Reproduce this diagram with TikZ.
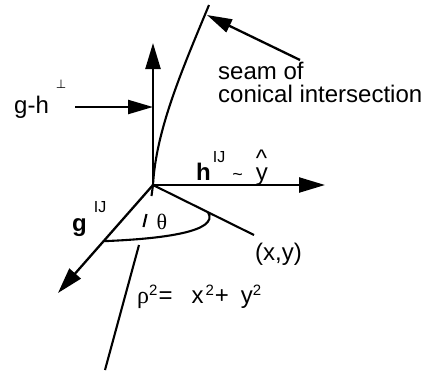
\documentclass[tikz,border=0pt]{standalone}
\usepackage{fontspec}
\setmainfont{Liberation Sans}
\newfontfamily\grk{Liberation Serif}
\newfontfamily\djv{DejaVu Sans}
\usetikzlibrary{arrows.meta,calc}
\newcommand{\sqr}{\raisebox{8pt}{\fontsize{15}{15}\selectfont 2}}
\newcommand{\supIJ}[1]{\raisebox{#1}{\fontsize{16}{16}\selectfont IJ}}
\begin{document}
\begin{tikzpicture}[x=1pt,y=-1pt,
  axis/.style={line width=2.3pt,-{Triangle[length=26pt,width=15pt]}},
  pointer/.style={line width=2.3pt,-{Triangle[length=25pt,width=14pt]}},
  curve/.style={line width=2.1pt},
  lbl/.style={inner sep=0pt,font=\fontsize{24}{24}\selectfont},
]
\useasboundingbox (0,0) rectangle (429,375);
% key points
\coordinate (O) at (153,185);
\coordinate (up) at (153,43);
\coordinate (hx) at (325,185);
\coordinate (gx) at (58,293);
\coordinate (xy) at (254,235);
\coordinate (seamtop) at (209,5);
\coordinate (seambot) at (105,370);
\coordinate (ghtail) at (75,107);
\coordinate (ghtip) at (153,107);
\coordinate (seamtail) at (300,60);
\coordinate (seamtip) at (207,15);
\coordinate (arcL) at ($(O)!0.52!(gx)$);
\coordinate (arcR) at ($(O)!0.545!(xy)$);
\coordinate (d1) at (151.5,196);
\coordinate (d2a) at (146.5,214);
\coordinate (d2b) at (143.5,227);
\coordinate (d3) at (139,245);
% axes
\draw[axis] (O) -- (up);
\draw[axis] (O) -- (hx);
\draw[axis] (O) -- (gx);
\draw[curve] (O) -- (xy);
% cone arc
\draw[curve] (arcL) .. controls (160,239) and (220,232) .. (arcR);
% seam
\draw[curve] (O) .. controls (156,130) and (182,70) .. (seamtop);
\draw[curve] (O) -- (d1);
\draw[curve] (d2a) -- (d2b);
\draw[curve] (d3) -- (seambot);
% pointers
\draw[pointer] (ghtail) -- (ghtip);
\draw[pointer] (seamtail) -- (seamtip);
% labels
\node[lbl,anchor=base west] (ghlbl) at (14,113)
  {g-h\hspace{7pt}\raisebox{25pt}{\djv\fontsize{12}{12}\selectfont ⊥}};
\node[lbl,anchor=base west] (seam1) at (218,79) {seam of};
\node[lbl,anchor=base west] (seam2) at (218,102) {conical intersection};
\node[lbl,anchor=base west] (hlbl) at (196,180)
  {\textbf{h}\hspace{2pt}\supIJ{18pt}\hspace{7pt}{\fontsize{18}{18}\selectfont\textasciitilde}\hspace{13pt}\makebox[0pt][l]{\raisebox{14pt}{\symbol{94}}}y};
\node[lbl,anchor=base west] (glbl) at (72,231)
  {\textbf{g}\hspace{7pt}\supIJ{19pt}};
\node[lbl,font=\grk\fontsize{22}{22}\selectfont] (theta) at (162,222) {θ};
\node[lbl,anchor=base west] (xylbl) at (255,260) {(x,y)};
\node[lbl,anchor=base west] (rholbl) at (137,303)
  {{\grk ρ}\sqr\hspace{1pt}=\hspace{19pt}x\hspace{2pt}\sqr\hspace{1pt}+\hspace{12pt}y\sqr};
\end{tikzpicture}
\end{document}
